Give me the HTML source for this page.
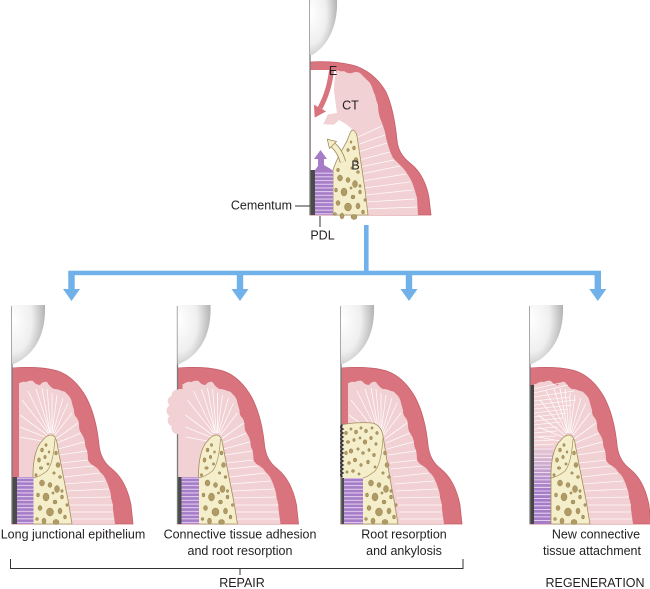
<!DOCTYPE html>
<html><head><meta charset="utf-8"><style>
html,body{margin:0;padding:0;background:#fff;}
svg{display:block;}
text{font-family:"Liberation Sans",Arial,sans-serif;fill:#231f20;}
</style></head><body>
<svg width="650" height="589" viewBox="0 0 650 589" xmlns="http://www.w3.org/2000/svg">
<defs>
<radialGradient id="cr" cx="0.05" cy="0.25" r="1">
<stop offset="0" stop-color="#ffffff"/><stop offset="0.55" stop-color="#efefef"/><stop offset="1" stop-color="#adadad"/>
</radialGradient>
<pattern id="pdl" width="6" height="3.7" patternUnits="userSpaceOnUse">
<rect width="6" height="3.7" fill="#a67bc8"/><rect y="2.5" width="6" height="0.9" fill="#eadff2"/>
</pattern>
<linearGradient id="p4g" x1="0" y1="140" x2="0" y2="185" gradientUnits="userSpaceOnUse">
<stop offset="0" stop-color="#eccdd3"/><stop offset="1" stop-color="#a67bc8"/></linearGradient>

<path id="gum" d="M0,63 C15,62 30,62 42,65 C55,68 66,78 74,92 C81,105 85,120 87,140 C88,150 92,158 100,164 C110,172 116,185 119,200 L121,219 L0,219 Z" fill="#d9737d" stroke="#c65f6a" stroke-width="0.8"/>

<path id="ct" d="M0,80 L6,79 Q10,76 14,77 Q18,75 21,76 Q24,80 28,80 Q31,76 35,77 Q38,82 42,84 Q46,84 50,86 Q53,86 55,89 Q59,92 60,98 Q61,102 62,105 Q62,110 64,112 Q67,115 67,120 Q67,125 69,128 Q72,132 73,137 Q73,142 75,145 Q76,150 76,155 Q78,159 82,161 Q86,163 88,167 Q92,170 94,175 Q96,179 97,183 Q99,188 99,193 Q101,198 101,204 L103,219 L0,219 Z" fill="#f1d1d3"/>

<g id="fib" stroke="#ffffff" stroke-width="0.8" stroke-opacity="0.9" fill="none">
<path d="M36,128L10,95M37,128L16,86M38,128L24,84M38,128L30,83M39,128L35,84M40,128L40,88M40,128L45,90M41,128L51,93M42,129L56,98M43,130L60,108M35,130L8,110M33,132L8,122M30,136L8,132"/>
<path d="M44,134L66,118M45,138L69,128M46,144L72,137M47,150L75,146M49,158L76,155M50,164L82,161M52,172L88,168M53,179L93,176M55,186L97,184M56,193L99,192M57,200L101,200M58,207L101,207M59,214L102,214"/>
</g>

<g id="blobLow" fill="#b19b65" stroke="#8a7446" stroke-width="0.4">
<ellipse cx="44" cy="148" rx="1.5" ry="2"/><ellipse cx="46" cy="160" rx="2" ry="2.5"/><ellipse cx="42" cy="168" rx="1.3" ry="1.3"/>
<ellipse cx="48" cy="172" rx="1.5" ry="1.5"/><ellipse cx="30" cy="178" rx="2.5" ry="3"/><ellipse cx="38" cy="180" rx="2" ry="2.5"/>
<ellipse cx="45" cy="184" rx="2.5" ry="3.5"/><ellipse cx="26" cy="190" rx="1.5" ry="2"/><ellipse cx="34" cy="192" rx="3" ry="4"/>
<ellipse cx="43" cy="197" rx="2" ry="2"/><ellipse cx="50" cy="192" rx="1.5" ry="2"/><ellipse cx="28" cy="203" rx="2" ry="2.5"/>
<ellipse cx="38" cy="207" rx="3.5" ry="4"/><ellipse cx="48" cy="206" rx="2" ry="3"/><ellipse cx="53" cy="212" rx="1.5" ry="2"/>
<ellipse cx="25" cy="214" rx="1.5" ry="1.5"/><ellipse cx="32" cy="216" rx="2" ry="3"/><ellipse cx="44" cy="217" rx="3" ry="2.5"/>
<ellipse cx="50" cy="186" rx="1.2" ry="1.5"/><ellipse cx="41" cy="188" rx="1.2" ry="1.2"/><ellipse cx="55" cy="200" rx="1.2" ry="1.5"/>
</g>
<g id="blobUp" fill="#b19b65" stroke="#8a7446" stroke-width="0.4">
<ellipse cx="30" cy="145" rx="1.5" ry="2"/><ellipse cx="34" cy="140" rx="1.2" ry="1.5"/><ellipse cx="27" cy="155" rx="1.5" ry="2.2"/>
<ellipse cx="33" cy="152" rx="1.3" ry="1.8"/><ellipse cx="37" cy="147" rx="1" ry="1.3"/><ellipse cx="29" cy="163" rx="1.8" ry="1.4"/>
<ellipse cx="36" cy="159" rx="1.2" ry="1.2"/><ellipse cx="24" cy="170" rx="1.2" ry="1.5"/>
</g>

<g id="bone">
<path d="M21,219 L21,170 C21,155 24,142 30,136 C33,132 36,130 39,130 C42,130 44,133 45,138 C47,150 52,175 56,195 L60,219 Z" fill="#f5eecb" stroke="#a38d5e" stroke-width="0.8"/>
<path d="M43,134 C42,148 40,160 35,166 C30,170 26,172 21,173" fill="none" stroke="#a38d5e" stroke-width="0.7"/>
<use href="#blobUp"/><use href="#blobLow"/>
</g>

<path id="crown" d="M0,0 L33,0 C34,25 26,48 2,59 L0,59 Z" fill="url(#cr)"/>
</defs>

<!-- ===== TOP DIAGRAM ===== -->
<g transform="translate(310,0)">
<path d="M0,62 C15,61 30,62 42,65 C55,68 68,78 76,92 C82,105 85,120 87,140 C88,150 92,157 101,164 C111,172 117,185 119,198 L121,215 L0,215 Z" fill="#d9737d" stroke="#c65f6a" stroke-width="0.8"/>
<path d="M0.7,70 L26,70 L26,80 L45,130 L45,172 L0.7,172 Z" fill="#ffffff"/>
<path d="M27,70 Q31,72 34,71 Q38,74 42,73 Q46,71 50,73 Q54,77 57,80 Q60,82 62,87 Q63,91 65,95 Q66,100 68,105 Q68,111 70,118 Q73,125 75,132 Q76,139 78,145 Q80,152 83,158 Q88,163 93,168 Q98,174 102,182 Q105,190 107,198 L108,215 L50,215 L44,131 Q37,124 29,120 L24.1,124.6 L13.3,124.2 L17.9,114.4 L27,113 Q25,100 24,90 Q24,78 27,70 Z" fill="#f1d1d3"/>
<g stroke="#ffffff" stroke-width="0.8" stroke-opacity="0.9" fill="none">
<path d="M46,138L72,126M47,145L75,135M48,152L77,143M49,160L80,152M50,167L84,160M51,174L90,166M53,181L96,174M54,188L100,182M55,195L103,190M56,202L105,199M57,209L107,207"/>
</g>
<!-- E arrow -->
<path d="M22,66 Q20,90 10,108" fill="none" stroke="#d9737d" stroke-width="5"/>
<polygon points="3.9,104.6 16.1,111.4 4.7,117.6" fill="#d9737d"/>
<!-- bone -->
<path d="M23,215 L23,170 C26,160 32,150 37,141 C39,136 40,132 42,130 C44,130 46,132 47,136 C49,150 52,170 55,190 L58,215 Z" fill="#f5eecb" stroke="#a38d5e" stroke-width="0.8"/>
<use href="#blobLow"/>
<g fill="#b19b65" stroke="#8a7446" stroke-width="0.4">
<ellipse cx="38" cy="150" rx="1.3" ry="1.6"/><ellipse cx="33" cy="160" rx="1.6" ry="2"/><ellipse cx="28" cy="170" rx="1.5" ry="1.8"/><ellipse cx="41" cy="142" rx="1" ry="1.3"/>
</g>
<!-- bone arrow -->
<path d="M33,162 Q30,151 23,145" fill="none" stroke="#a38d5e" stroke-width="6.4"/>
<path d="M33,162 Q30,151 23,145" fill="none" stroke="#f5eecb" stroke-width="4.6"/>
<polygon points="26.5,141.5 19.5,148.5 17.3,139.3" fill="#f5eecb" stroke="#a38d5e" stroke-width="0.8" stroke-linejoin="round"/>
<!-- PDL with arrow -->
<path d="M5,215 L5,170 L8,166 L8,159 L4,159 L10.5,150 L17,159 L14,159 L14,165 C17,167 20,168 23,171 L23,215 Z" fill="#a67bc8"/>
<rect x="5" y="171" width="18" height="44" fill="url(#pdl)"/>
<rect x="0" y="170" width="5" height="45" fill="#4b4b4b"/>
<line x1="0" y1="0" x2="0" y2="215" stroke="#7a7a7a" stroke-width="1.3"/>
<path d="M0,0 L27,0 C28,22 20,45 2,55 L0,55 Z" fill="url(#cr)"/>
</g>
<text x="333" y="75" text-anchor="middle" font-size="12.5">E</text>
<text x="350.5" y="109.5" text-anchor="middle" font-size="12.5">CT</text>
<text x="355.5" y="169.5" text-anchor="middle" font-size="12.5">B</text>
<text x="292" y="209.5" text-anchor="end" font-size="12.5">Cementum</text>
<line x1="295" y1="206" x2="310" y2="206" stroke="#333" stroke-width="1"/>
<line x1="320" y1="216" x2="320" y2="227" stroke="#333" stroke-width="1"/>
<text x="322.5" y="239.5" text-anchor="middle" font-size="12.5">PDL</text>

<!-- ===== CONNECTORS ===== -->
<g fill="#6fb1e8">
<rect x="364" y="225" width="4.6" height="50"/>
<rect x="68.3" y="270.7" width="532.7" height="4.5"/>
<rect x="68.3" y="272" width="6.4" height="18"/>
<rect x="236.8" y="272" width="6.4" height="18"/>
<rect x="405.8" y="272" width="6.4" height="18"/>
<rect x="594.6" y="272" width="6.4" height="18"/>
<polygon points="63,289 80,289 71.5,301"/>
<polygon points="231.5,289 248.5,289 240,301"/>
<polygon points="400.5,289 417.5,289 409,301"/>
<polygon points="589.3,289 606.3,289 597.8,301"/>
</g>

<!-- ===== PANEL 1 ===== -->
<g transform="translate(12,305)">
<use href="#gum"/><use href="#ct"/><use href="#fib"/>
<rect x="0" y="63" width="7" height="110" fill="#d9737d"/>
<use href="#bone"/>
<rect x="5" y="172" width="16.5" height="47" fill="url(#pdl)"/>
<rect x="0" y="172" width="5" height="47" fill="#4b4b4b"/>
<line x1="0" y1="1" x2="0" y2="219" stroke="#7a7a7a" stroke-width="1.3"/>
<use href="#crown"/>
</g>

<!-- ===== PANEL 2 ===== -->
<g transform="translate(177.5,305)">
<use href="#gum"/><use href="#ct"/><use href="#fib"/>
<rect x="0" y="63" width="5" height="21" fill="#d9737d"/>
<use href="#bone"/>
<rect x="4" y="172" width="17.5" height="47" fill="url(#pdl)"/>
<rect x="0" y="172" width="4" height="47" fill="#4b4b4b"/>
<line x1="0" y1="1" x2="0" y2="219" stroke="#7a7a7a" stroke-width="1.3"/>
<path d="M1,85 C-3,84 -6,87 -6,91 C-10,92 -11,97 -8,100 C-12,103 -12,109 -8,111 C-11,114 -10,120 -6,121 C-7,126 -3,130 1,129 L6,129 L6,85 Z" fill="#f1d1d3"/>
<use href="#crown"/>
</g>

<!-- ===== PANEL 3 ===== -->
<g transform="translate(341,305)">
<use href="#gum"/><use href="#ct"/><use href="#fib"/>
<rect x="0" y="63" width="7" height="58" fill="#d9737d"/>
<path d="M0,219 L0,120 C8,118 22,117 31,118 C37,119 41,124 42,131 C45,150 49,175 53,195 L57,219 Z" fill="#f5eecb" stroke="#a38d5e" stroke-width="0.8"/>
<path d="M42,133 C41,148 39,160 34,166 C29,170 26,172 22,173" fill="none" stroke="#a38d5e" stroke-width="0.7"/>
<g fill="#b19b65" stroke="#8a7446" stroke-width="0.4">
<ellipse cx="5" cy="128" rx="1.5" ry="1.8"/><ellipse cx="10" cy="124" rx="1.2" ry="1.2"/><ellipse cx="15" cy="127" rx="1.6" ry="2"/>
<ellipse cx="20" cy="123" rx="1.2" ry="1.4"/><ellipse cx="25" cy="126" rx="1.5" ry="1.8"/><ellipse cx="31" cy="123" rx="1.2" ry="1.2"/>
<ellipse cx="36" cy="128" rx="1.3" ry="1.6"/><ellipse cx="7" cy="137" rx="1.8" ry="1.5"/><ellipse cx="13" cy="135" rx="1.3" ry="1.6"/>
<ellipse cx="19" cy="133" rx="1.2" ry="1.2"/><ellipse cx="24" cy="137" rx="1.8" ry="2.2"/><ellipse cx="30" cy="133" rx="1.4" ry="1.8"/>
<ellipse cx="35" cy="139" rx="1.2" ry="1.5"/><ellipse cx="5" cy="148" rx="1.4" ry="1.8"/><ellipse cx="10" cy="146" rx="1.8" ry="2.2"/>
<ellipse cx="17" cy="144" rx="1.3" ry="1.3"/><ellipse cx="22" cy="148" rx="1.5" ry="1.5"/><ellipse cx="28" cy="145" rx="1.2" ry="1.6"/>
<ellipse cx="33" cy="150" rx="1.5" ry="1.8"/><ellipse cx="8" cy="158" rx="1.5" ry="1.5"/><ellipse cx="14" cy="155" rx="1.8" ry="2"/>
<ellipse cx="20" cy="160" rx="1.3" ry="1.6"/><ellipse cx="27" cy="157" rx="1.5" ry="2"/><ellipse cx="34" cy="162" rx="1.2" ry="1.2"/>
<ellipse cx="6" cy="167" rx="1.2" ry="1.3"/><ellipse cx="12" cy="166" rx="1.5" ry="1.5"/><ellipse cx="18" cy="169" rx="1.2" ry="1.2"/>
</g>
<use href="#blobLow"/>
<rect x="3" y="173" width="19" height="46" fill="url(#pdl)"/>
<rect x="0" y="173" width="3" height="46" fill="#4b4b4b"/>
<line x1="0" y1="1" x2="0" y2="219" stroke="#7a7a7a" stroke-width="1.3"/>
<path d="M1.5,120 q-3,2 0,4 q-3,2 0,4 q-3,2 0,4 q-3,2 0,4 q-3,2 0,4 q-3,2 0,4 q-3,2 0,4 q-3,2 0,4 q-3,2 0,4 q-3,2 0,4 q-3,2 0,4 q-3,2 0,4 q-3,2 0,4" fill="none" stroke="#3a3a3a" stroke-width="2"/>
<use href="#crown"/>
</g>

<!-- ===== PANEL 4 ===== -->
<g transform="translate(530,305)">
<use href="#gum"/><use href="#ct"/><use href="#fib"/>
<rect x="0" y="63" width="4" height="18" fill="#d9737d"/>
<rect x="4" y="142" width="19" height="77" fill="url(#p4g)"/>
<g stroke="#ffffff" stroke-width="0.8" stroke-opacity="0.85" fill="none">
<path d="M4,84L30,78M4,88L38,80M4,92L44,86M4,96L40,92M4,100L46,95M4,104L42,100M4,108L38,104M4,112L36,108M4,116L33,113M4,120L30,117M4,124L28,122M4,128L27,126M4,132L26,131M4,136L24,135M4,140L24,139M4,144L23,144"/>
<path d="M4,149H22M4,152.7H22M4,156.4H22M4,160.1H22M4,163.8H22M4,167.5H22M4,171.2H22M4,174.9H22M4,178.6H22M4,182.3H22M4,186H22M4,189.7H22M4,193.4H22M4,197.1H22M4,200.8H22M4,204.5H22M4,208.2H22M4,211.9H22M4,215.6H22"/>
</g>
<use href="#bone"/>
<rect x="0" y="80" width="4" height="139" fill="#454545"/>
<line x1="0" y1="1" x2="0" y2="219" stroke="#7a7a7a" stroke-width="1.3"/>
<use href="#crown"/>
</g>

<!-- ===== LABELS ===== -->
<g font-size="12.5" text-anchor="middle">
<text x="73" y="538.5">Long junctional epithelium</text>
<text x="240" y="538.5">Connective tissue adhesion</text>
<text x="240" y="555">and root resorption</text>
<text x="404" y="538.5">Root resorption</text>
<text x="404" y="555">and ankylosis</text>
<text x="596" y="538.5">New connective</text>
<text x="592" y="555">tissue attachment</text>
<text x="242" y="587">REPAIR</text>
<text x="595" y="587">REGENERATION</text>
</g>
<path d="M10.5,559 L10.5,568.5 L463,568.5 L463,559 M240,568.5 L240,575" fill="none" stroke="#333" stroke-width="1"/>
</svg>
</body></html>
